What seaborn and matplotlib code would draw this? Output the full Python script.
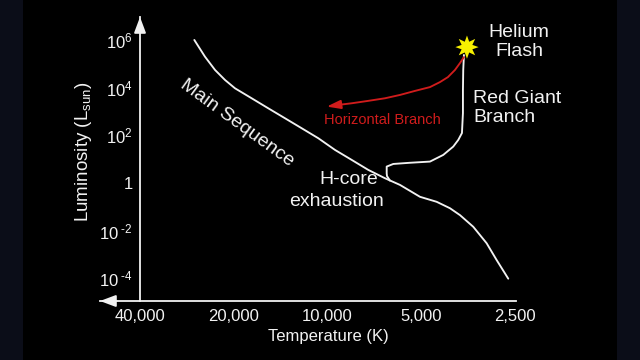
import matplotlib
matplotlib.use("Agg")
import matplotlib.pyplot as plt
import seaborn as sns
import numpy as np
import pandas as pd
from matplotlib.patches import Rectangle

# ---- data (temperature in K, log10 luminosity in L_sun) ----
ms_temp = [26770, 24750, 22970, 21340, 19820, 17520, 15500, 13690, 12100, 10700, 9460,
           8360, 7395, 6537, 5851, 5046, 4461, 4043, 3754, 3403, 3083, 2862, 2627]
ms_loglum = [6.01, 5.31, 4.75, 4.33, 3.98, 3.56, 3.14, 2.72, 2.30, 1.88, 1.39,
             0.97, 0.55, 0.20, -0.08, -0.58, -0.79, -1.06, -1.35, -1.84, -2.53, -3.24, -4.02]

rgb_temp = [6300, 6440, 6455, 6455, 6148, 5435, 4687, 4249, 3946, 3802, 3700, 3673, 3673, 3665, 3646]
rgb_loglum = [0.10, 0.29, 0.41, 0.69, 0.80, 0.85, 0.90, 1.18, 1.53, 1.81, 2.10, 2.94, 3.91, 4.75, 5.38]

hb_temp = [3646, 3754, 3896, 4104, 4353, 4687, 5237, 5851, 6537, 7412, 8360, 9253]
hb_loglum = [5.29, 5.04, 4.75, 4.45, 4.24, 4.03, 3.87, 3.70, 3.56, 3.45, 3.35, 3.28]
hb_arrow_tip = (10060, 3.21)

flash_temp = [3565]
flash_loglum = [5.71]

x_ticks = [40000, 20000, 10000, 5000, 2500]
x_ticklabels = ["40,000", "20,000", "10,000", "5,000", "2,500"]
y_ticks_log = [6, 4, 2, 0, -2, -4]
y_ticklabels = [r"$10^{6}$", r"$10^{4}$", r"$10^{2}$", "1",
                r"$10^{\ \text{-}2}$", r"$10^{\ \text{-}4}$"]

# ---- style ----
sns.set_theme(style="dark")
plt.rcParams["font.family"] = ["Liberation Sans", "DejaVu Sans"]
plt.rcParams["mathtext.fontset"] = "custom"
plt.rcParams["mathtext.rm"] = "Liberation Sans"
plt.rcParams["mathtext.it"] = "Liberation Sans"
plt.rcParams["mathtext.default"] = "rm"

W, H = 640, 360
fig = plt.figure(figsize=(6.4, 3.6), dpi=100)
fig.patch.set_facecolor("#0b0d18")
fig.patches.append(Rectangle((23 / W, 0), (617 - 23) / W, 1, transform=fig.transFigure,
                             facecolor="black", edgecolor="none", zorder=-10))

ax = fig.add_axes([100 / W, 59 / H, 416 / W, 284 / H])
ax.set_facecolor("none")
ax.set_zorder(5)

white = "#f2f2f2"
red = "#d01c1c"

ms = pd.DataFrame({"T": ms_temp, "L": 10 ** np.array(ms_loglum)})
rgb = pd.DataFrame({"T": rgb_temp, "L": 10 ** np.array(rgb_loglum)})
hb = pd.DataFrame({"T": hb_temp, "L": 10 ** np.array(hb_loglum)})

kw = dict(sort=False, estimator=None, lw=1.35, ax=ax)
sns.lineplot(data=ms, x="T", y="L", color=white, **kw)
sns.lineplot(data=rgb, x="T", y="L", color=white, **kw)
sns.lineplot(data=hb, x="T", y="L", color=red, **kw)
for line in ax.lines:
    line.set_solid_joinstyle("round")
    line.set_solid_capstyle("round")
ax.annotate("", xy=(hb_arrow_tip[0], 10 ** hb_arrow_tip[1]),
            xytext=(hb_temp[-1], 10 ** hb_loglum[-1]),
            arrowprops=dict(arrowstyle="-|>,head_length=0.7,head_width=0.22",
                            color=red, lw=1.35, shrinkA=0, shrinkB=0))

ax.scatter(flash_temp, 10 ** np.array(flash_loglum), marker=(8, 1, 0), s=280,
           color="#f6f000", edgecolor="none", zorder=5)

ax.set_xscale("log")
ax.set_yscale("log")
ax.set_xlim(53770, 2481)
ax.set_ylim(10 ** -4.958, 10 ** 6.975)
ax.minorticks_off()
ax.set_xticks(x_ticks)
ax.set_xticklabels(x_ticklabels)
ax.set_yticks([10.0 ** v for v in y_ticks_log])
ax.set_yticklabels(y_ticklabels)
ax.set_xlabel("")
ax.set_ylabel("")
ax.grid(False)

for s in ["top", "right"]:
    ax.spines[s].set_visible(False)
ax.spines["left"].set_position(("data", 40000))
for s in ["left", "bottom"]:
    ax.spines[s].set_color(white)
    ax.spines[s].set_linewidth(1.3)

ax.tick_params(axis="x", direction="in", length=7, width=1.3, color=white,
               labelcolor=white, labelsize=12, pad=6)
ax.tick_params(axis="y", direction="in", length=9, width=1.3, color=white,
               labelcolor=white, labelsize=12, pad=5)

# axis arrows
ax.annotate("", xy=(0, 0), xycoords="axes fraction", xytext=(0.04, 0),
            arrowprops=dict(arrowstyle="-|>,head_length=0.8,head_width=0.3",
                            color=white, lw=1.3, shrinkA=0, shrinkB=0), annotation_clip=False)
ax.annotate("", xy=(40000, 1), xycoords=("data", "axes fraction"), xytext=(40000, 0.95),
            textcoords=("data", "axes fraction"),
            arrowprops=dict(arrowstyle="-|>,head_length=0.8,head_width=0.3",
                            color=white, lw=1.3, shrinkA=0, shrinkB=0), annotation_clip=False)

def ft(x, y, s, **kw):
    fig.text(x / W, 1 - y / H, s, color=white, **kw)

ft(84, 152, r"Luminosity (L$_{\mathrm{sun}}$)", rotation=90, ha="center", va="center", fontsize=13.5)
ft(328, 336, "Temperature (K)", ha="center", va="center", fontsize=12)
ft(519, 42, "Helium\nFlash", ha="center", va="center", fontsize=14, linespacing=1.15)
ft(473, 108, "Red Giant\nBranch", ha="left", va="center", fontsize=14, linespacing=1.15)
ft(237, 123, "Main Sequence", rotation=-36, ha="center", va="center", fontsize=14,
   rotation_mode="anchor")
ft(349, 180, "H-core", ha="center", va="center", fontsize=14)
ft(336, 202, "exhaustion", ha="center", va="center", fontsize=14)
fig.text(382 / W, 1 - 120 / H, "Horizontal Branch", color=red, ha="center", va="center", fontsize=10.5)

fig.savefig("out.png", dpi=100, facecolor=fig.get_facecolor())
